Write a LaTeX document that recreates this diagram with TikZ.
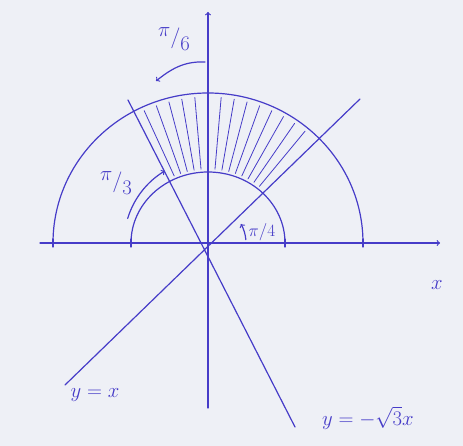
\documentclass[tikz,border=0pt]{standalone}
\usepackage{amsmath,amssymb}
\usetikzlibrary{arrows,calc}
\definecolor{ink}{RGB}{70,60,200}
\definecolor{paper}{RGB}{238,240,246}
\newcommand{\slfrac}[2]{\raisebox{7pt}{$#1$}$/$\raisebox{-7pt}{$#2$}}
\begin{document}
\begin{tikzpicture}[x=1pt,y=1pt, font=\huge, line join=round, line cap=round, >=to, ink, line width=1.2pt]
			\fill[paper] (-208,-203) rectangle (255,243);
			\useasboundingbox (-208,-203) rectangle (255,243);
			\foreach \x\y\t in {0/0/O,-168/0/L,232/0/R,0/-165/D,0/231/U,-143/-142/P,152/144/Q,-80/143/M,87/-184/N}
			\coordinate (\t) at (\x,\y);
			\draw[->] (L)--(R);
			\draw[->] (D)--(U);
			\draw (P)--(Q) (M)--(N);
			% the two half rings
			\draw (155,0) arc[start angle=0,end angle=180,x radius=155,y radius=150];
			\draw (77,0) arc[start angle=0,end angle=180,x radius=77,y radius=71];
			\foreach \r in {-155,-77,77,155}
			\draw ($(O)+(\r,-4)$)--($(O)+(\r,4)$);
			\foreach \a in {50,55,...,115}
			\draw[line width=0.8pt] ({80*cos(\a)},{74*sin(\a)})--({151*cos(\a)},{146*sin(\a)});
			% angles
			\coordinate (A1) at (-3,181);
			\coordinate (A2) at (-52,162);
			\draw[->] (A1) .. controls (-25,182) and (-38,173) .. (A2);
			\coordinate (B1) at (163:84);
			\draw[->] (B1) arc[start angle=163,end angle=121,radius=84];
			\coordinate (C1) at (5:38);
			\draw[->] (C1) arc[start angle=5,end angle=30,radius=38];
			\path (-34,204) node (p6) {\slfrac{\pi}{6}};
			\path (-92,60) node (p3) {\slfrac{\pi}{3}};
			\path (54,11) node[font=\LARGE] (p4) {$\pi/4$};
			\path (229,-42) node (lx) {$x$};
			\path (-113,-152) node (ly1) {$y=x$};
			\path (160,-175) node (ly2) {$y=-\sqrt{3}x$};
		\end{tikzpicture}
\end{document}
